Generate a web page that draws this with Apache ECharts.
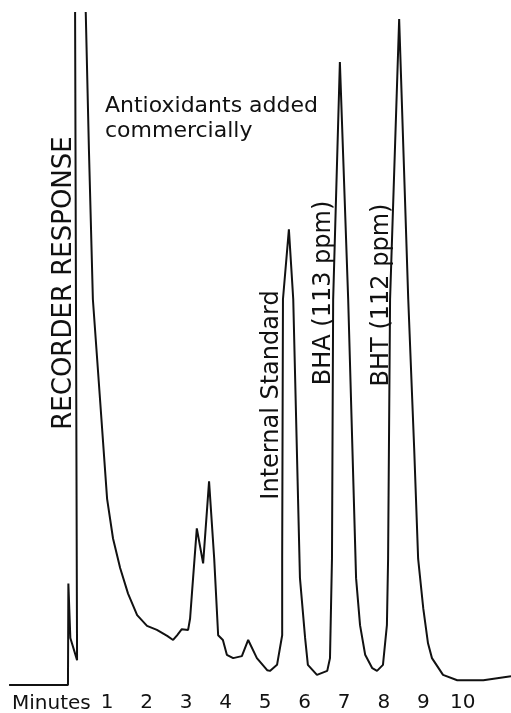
<!DOCTYPE html>
<html>
<head>
<meta charset="utf-8">
<script src="https://cdn.jsdelivr.net/npm/echarts@6/dist/echarts.min.js"></script>
<style>
  html, body { margin: 0; padding: 0; background: #fff; }
  #chart { width: 511px; height: 713px; }
</style>
</head>
<body>
<div id="chart"></div>
<script>
// retention time (min) and recorder response (% of full scale)
var timeMin = [-1.48, 0.01, 0.02, 0.07, 0.24, 0.19, 0.33, 0.46, 0.54, 0.64,
  0.82, 1.00, 1.15, 1.33, 1.53, 1.76, 2.01, 2.26, 2.52,
  2.67, 2.77, 2.89, 3.05, 3.10, 3.15, 3.27, 3.43, 3.58, 3.71,
  3.81, 3.93, 4.03, 4.19, 4.41, 4.57, 4.79, 5.05, 5.12, 5.30,
  5.43, 5.43, 5.45, 5.60, 5.71, 5.88, 6.01, 6.08, 6.31, 6.57,
  6.64, 6.69, 6.72, 6.89, 7.10, 7.30, 7.40, 7.53, 7.71, 7.83,
  7.98, 8.08, 8.11, 8.16, 8.39, 8.62, 8.77, 8.87, 9.00, 9.12,
  9.22, 9.50, 9.86, 10.52, 11.22];
var response = [0, 0, 15.1, 7.0, 3.7, 100, 115, 100, 79.7, 57.4,
  42.6, 27.7, 21.8, 17.4, 13.6, 10.4, 8.8, 8.2, 7.3,
  6.7, 7.4, 8.3, 8.2, 9.9, 13.9, 23.3, 18.1, 30.3, 18.8,
  7.4, 6.7, 4.5, 4.0, 4.3, 6.7, 4.0, 2.2, 2.1, 3.0,
  7.4, 18.8, 57.4, 67.8, 57.4, 15.9, 7.0, 3.0, 1.5, 2.1,
  4.0, 18.8, 57.4, 92.7, 57.4, 15.9, 8.9, 4.5, 2.5, 2.1,
  3.0, 8.9, 18.8, 57.4, 99.1, 57.4, 35.2, 18.8, 11.4, 6.2,
  4.0, 1.5, 0.7, 0.7, 1.3];

var tickMinutes = [1, 2, 3, 4, 5, 6, 7, 8, 9, 10];
var tickLabels = ['1', '2', '3', '4', '5', '6', '7', '8', '9', '10'];

var trace = [];
for (var i = 0; i < timeMin.length; i++) {
  trace.push([timeMin[i], response[i]]);
}

var font = 'DejaVu Sans';

var chart = echarts.init(document.getElementById('chart'));
chart.setOption({
  animation: false,
  backgroundColor: '#fff',
  grid: { left: 0, right: 0, top: 13, bottom: 26 },
  xAxis: {
    type: 'value',
    min: -1.71,
    max: 11.22,
    axisLine: { show: false },
    axisTick: { show: false },
    splitLine: { show: false },
    axisLabel: {
      customValues: tickMinutes,
      margin: 8,
      color: '#111',
      fontFamily: font,
      fontSize: 20,
      formatter: function (v) {
        var k = tickMinutes.indexOf(v);
        return k >= 0 ? tickLabels[k] : '';
      }
    }
  },
  yAxis: { type: 'value', min: 0, max: 100, show: false },
  series: [{
    type: 'line',
    data: trace,
    showSymbol: false,
    clip: true,
    lineStyle: { color: '#111', width: 2 }
  }],
  graphic: [
    { type: 'text', left: 12, top: 694,
      style: { text: 'Minutes', fill: '#111', font: '20px "DejaVu Sans"' } },
    { type: 'text', x: 64, y: 283, rotation: Math.PI / 2,
      style: { text: 'RECORDER RESPONSE', fill: '#111', font: '26px "DejaVu Sans"',
        align: 'center', verticalAlign: 'middle' } },
    { type: 'text', x: 105, y: 94,
      style: { text: 'Antioxidants added\ncommercially', fill: '#111', font: '22px "DejaVu Sans"',
        lineHeight: 25, align: 'left', verticalAlign: 'top' } },
    { type: 'text', x: 272, y: 395, rotation: Math.PI / 2,
      style: { text: 'Internal Standard', fill: '#111', font: '24px "DejaVu Sans"',
        align: 'center', verticalAlign: 'middle' } },
    { type: 'text', x: 324, y: 293, rotation: Math.PI / 2,
      style: { text: 'BHA (113 ppm)', fill: '#111', font: '24px "DejaVu Sans"',
        align: 'center', verticalAlign: 'middle' } },
    { type: 'text', x: 382, y: 295, rotation: Math.PI / 2,
      style: { text: 'BHT (112 ppm)', fill: '#111', font: '24px "DejaVu Sans"',
        align: 'center', verticalAlign: 'middle' } }
  ]
});
</script>
</body>
</html>
